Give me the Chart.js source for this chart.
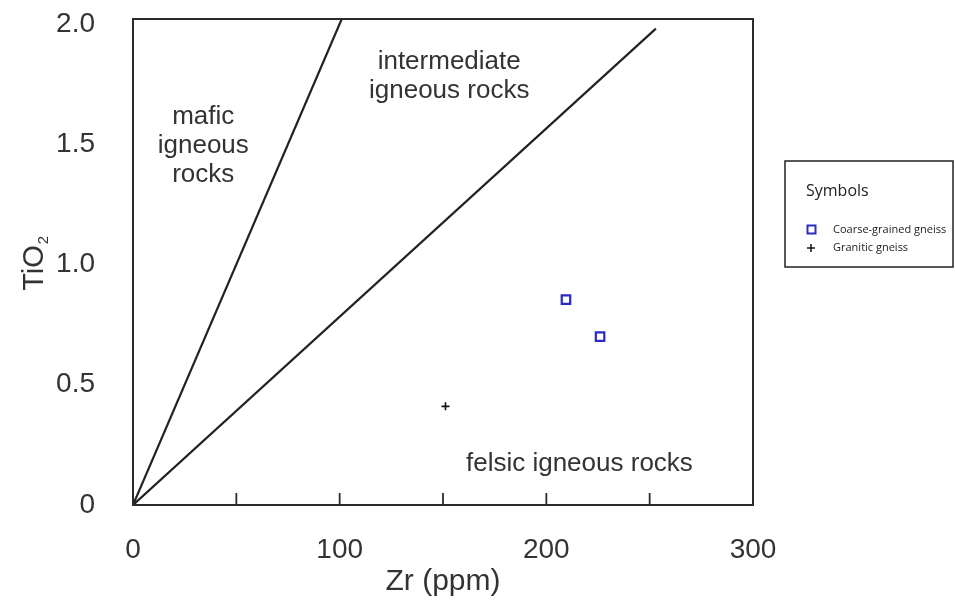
<!DOCTYPE html>
<html>
<head>
<meta charset="utf-8">
<script src="https://cdn.jsdelivr.net/npm/chart.js@4.4.1/dist/chart.umd.min.js"></script>
<style>
  html, body { margin: 0; padding: 0; background: #fff; }
  #wrap { width: 955px; height: 606px; }
</style>
</head>
<body>
<div id="wrap"><canvas id="zrTiChart" width="955" height="606"></canvas></div>
<script>
// Data
const coarseZr = [209.5, 226];
const coarseTi = [0.854, 0.70];
const graniticZr = [151.2];
const graniticTi = [0.41];

// Discrimination lines (Zr, TiO2) end points
const maficLineZr = [0, 101];
const maficLineTi = [0, 2.02];
const felsicLineZr = [0, 253];
const felsicLineTi = [0, 1.98];

// Axes
const xTickValues = [0, 100, 200, 300];
const xMinorTicks = [50, 100, 150, 200, 250];
const yTickValues = [0, 0.5, 1.0, 1.5, 2.0];
const yTickLabels = ['0', '0.5', '1.0', '1.5', '2.0'];

// Field labels: text lines and their (Zr, TiO2) anchor
const fieldLabels = [
    { lines: ['mafic', 'igneous', 'rocks'], zr: 34, ti: 1.615 },
    { lines: ['intermediate', 'igneous rocks'], zr: 153, ti: 1.84 },
    { lines: ['felsic igneous rocks'], zr: 216, ti: 0.17 }
];

const legendTitle = 'Symbols';
const legendNames = ['Coarse-grained gneiss', 'Granitic gneiss'];

const toPoints = (xs, ys) => xs.map((x, i) => ({ x: x, y: ys[i] }));

const ink = '#2b2b2b';
const blue = '#2a2ac8';

// Plugin: frame, inward ticks, field labels, y title, legend box
const decorPlugin = {
    id: 'decor',
    afterDraw(chart) {
        const ctx = chart.ctx;
        const a = chart.chartArea;
        const xs = chart.scales.x;
        const ys = chart.scales.y;
        ctx.save();

        // frame
        ctx.strokeStyle = ink;
        ctx.lineWidth = 2;
        ctx.strokeRect(a.left, a.top, a.right - a.left, a.bottom - a.top);

        // inward ticks on x axis
        ctx.lineWidth = 1.8;
        xMinorTicks.forEach(v => {
            const px = xs.getPixelForValue(v);
            ctx.beginPath();
            ctx.moveTo(px, a.bottom);
            ctx.lineTo(px, a.bottom - 12);
            ctx.stroke();
        });

        // field labels
        ctx.fillStyle = '#333';
        ctx.font = '26px "Liberation Sans", Arial, sans-serif';
        ctx.textAlign = 'center';
        ctx.textBaseline = 'middle';
        fieldLabels.forEach(f => {
            const px = xs.getPixelForValue(f.zr);
            const py = ys.getPixelForValue(f.ti);
            f.lines.forEach((t, i) => ctx.fillText(t, px, py + i * 29));
        });

        // y axis title TiO2
        ctx.save();
        ctx.translate(43, 268);
        ctx.rotate(-Math.PI / 2);
        ctx.font = '29px "Liberation Sans", Arial, sans-serif';
        ctx.textAlign = 'center';
        ctx.textBaseline = 'alphabetic';
        ctx.fillText('TiO', 0, 0);
        const w = ctx.measureText('TiO').width;
        ctx.font = '15px "Liberation Sans", Arial, sans-serif';
        ctx.textAlign = 'left';
        ctx.fillText('2', w / 2 + 1, 5);
        ctx.restore();

        // legend box
        ctx.strokeStyle = '#222';
        ctx.lineWidth = 1.5;
        ctx.strokeRect(785, 161, 168, 106);
        ctx.fillStyle = '#222';
        ctx.textAlign = 'left';
        ctx.textBaseline = 'middle';
        ctx.font = '16px "Open Sans", sans-serif';
        ctx.fillText(legendTitle, 806, 191);
        ctx.font = '11px "Open Sans", sans-serif';
        ctx.fillText(legendNames[0], 833, 230);
        ctx.fillText(legendNames[1], 833, 248);
        // symbols
        ctx.strokeStyle = blue;
        ctx.lineWidth = 2;
        ctx.strokeRect(807.5, 225.5, 8, 8);
        ctx.strokeStyle = '#111';
        ctx.lineWidth = 1.5;
        ctx.beginPath();
        ctx.moveTo(807, 248); ctx.lineTo(815, 248);
        ctx.moveTo(811, 244); ctx.lineTo(811, 252);
        ctx.stroke();

        ctx.restore();
    }
};

const ctx = document.getElementById('zrTiChart').getContext('2d');
const zrTiChart = new Chart(ctx, {
    type: 'scatter',
    data: {
        datasets: [
            {
                label: 'mafic boundary',
                data: toPoints(maficLineZr, maficLineTi),
                showLine: true,
                borderColor: '#222',
                borderWidth: 2.2,
                pointRadius: 0
            },
            {
                label: 'felsic boundary',
                data: toPoints(felsicLineZr, felsicLineTi),
                showLine: true,
                borderColor: '#222',
                borderWidth: 2.2,
                pointRadius: 0
            },
            {
                label: legendNames[0],
                data: toPoints(coarseZr, coarseTi),
                pointStyle: 'rect',
                pointRadius: 6,
                borderColor: blue,
                backgroundColor: '#fff',
                borderWidth: 2.2
            },
            {
                label: legendNames[1],
                data: toPoints(graniticZr, graniticTi),
                pointStyle: 'cross',
                pointRadius: 4,
                borderColor: '#111',
                borderWidth: 1.6
            }
        ]
    },
    options: {
        responsive: false,
        animation: false,
        layout: { padding: { top: 19, right: 202, left: 0, bottom: 0 } },
        plugins: {
            legend: { display: false },
            tooltip: { enabled: false }
        },
        scales: {
            x: {
                type: 'linear',
                min: 0,
                max: 300,
                grid: { display: false, drawTicks: false },
                border: { display: false },
                afterBuildTicks(scale) {
                    scale.ticks = xTickValues.map(v => ({ value: v }));
                },
                afterFit(scale) {
                    scale.height = 101;
                    scale.paddingLeft = 0;
                    scale.paddingRight = 0;
                },
                ticks: {
                    padding: 28,
                    color: '#333',
                    font: { family: '"Liberation Sans", Arial, sans-serif', size: 28 }
                },
                title: {
                    display: true,
                    text: 'Zr (ppm)',
                    color: '#333',
                    padding: { top: 0, bottom: 6 },
                    font: { family: '"Liberation Sans", Arial, sans-serif', size: 30 }
                }
            },
            y: {
                type: 'linear',
                min: 0,
                max: 2.02,
                grid: { display: false, drawTicks: false },
                border: { display: false },
                afterBuildTicks(scale) {
                    scale.ticks = yTickValues.map(v => ({ value: v }));
                },
                afterFit(scale) {
                    scale.width = 133;
                    scale.paddingTop = 0;
                    scale.paddingBottom = 0;
                },
                ticks: {
                    padding: 38,
                    color: '#333',
                    font: { family: '"Liberation Sans", Arial, sans-serif', size: 28 },
                    callback: (v) => yTickLabels[yTickValues.indexOf(v)]
                }
            }
        }
    },
    plugins: [decorPlugin]
});
</script>
</body>
</html>
